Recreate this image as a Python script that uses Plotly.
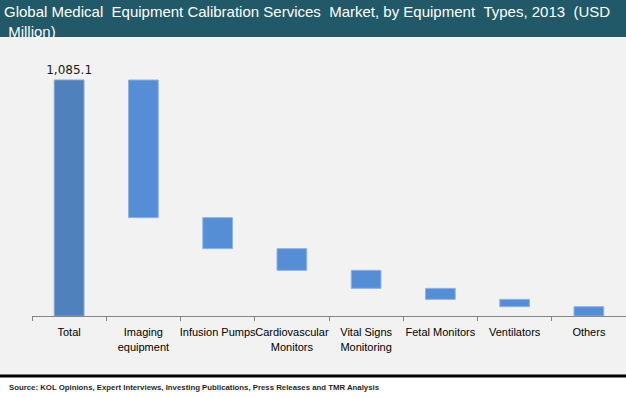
import plotly.graph_objects as go

categories = ["Total", "Imaging<br>equipment", "Infusion Pumps", "Cardiovascular<br>Monitors",
              "Vital Signs<br>Monitoring", "Fetal Monitors", "Ventilators", "Others"]
total_value = 1085.1
segment_values = [633.0, 142.5, 99.7, 82.8, 50.6, 33.7, 42.8]
total_label = "1,085.1"
title_line1 = "Global Medical Equipment Calibration Services Market, by Equipment Types, 2013 (USD"
title_line2 = "Million)"
source_text = "Source: KOL Opinions, Expert Interviews, Investing Publications, Press Releases and TMR Analysis"

values = [total_value] + [-v for v in segment_values]
measures = ["absolute"] + ["relative"] * len(segment_values)
texts = [total_label] + [""] * len(segment_values)

fig = go.Figure(go.Waterfall(
    x=categories,
    y=values,
    measure=measures,
    text=texts,
    textposition="outside",
    constraintext="none",
    textfont=dict(family="DejaVu Sans, Verdana, sans-serif", size=12, color="#1A1A1A"),
    width=0.4,
    connector=dict(visible=False),
    totals=dict(marker=dict(color="#4F81BD", line=dict(color="#7FA3CF", width=1))),
    decreasing=dict(marker=dict(color="#558ED5", line=dict(color="#8DB3E2", width=1))),
    increasing=dict(marker=dict(color="#558ED5")),
    cliponaxis=False,
    hoverinfo="x+y",
))

W, H = 626, 398
L, R, T, B = 32, 0, 50, 82
pw, ph = W - L - R, H - T - B

def px_x(x):
    return (x - L) / pw

def px_y(y):
    return (H - B - y) / ph

# justify the first title line by widening the word gaps
words = title_line1.split(" ")
gap_sizes = [1, 2, 1, 1, 2, 1, 1, 2, 1, 2]
title_html = words[0]
for w, g in zip(words[1:], gap_sizes):
    title_html += "\u00a0" * g + w
title_html += "<br>\u00a0" + title_line2

fig.update_layout(
    width=W, height=H,
    margin=dict(l=L, r=R, t=T, b=B, autoexpand=False),
    paper_bgcolor="#F2F2F2",
    plot_bgcolor="#F2F2F2",
    showlegend=False,
    xaxis=dict(
        type="category",
        showline=True, linecolor="#868686", linewidth=1,
        ticks="outside", tickson="boundaries", ticklen=4, tickcolor="#868686",
        tickangle=0, ticklabelstandoff=6,
        showgrid=False,
        tickfont=dict(family="Liberation Sans, Arial, sans-serif", size=11, color="#000000"),
        fixedrange=True,
    ),
    yaxis=dict(visible=False, range=[0, 1223], fixedrange=True),
    shapes=[
        dict(type="rect", xref="paper", yref="paper",
             x0=px_x(0), x1=px_x(W), y0=px_y(37), y1=px_y(0),
             fillcolor="#215968", line=dict(width=0), layer="below"),
        dict(type="rect", xref="paper", yref="paper",
             x0=px_x(0), x1=px_x(W), y0=px_y(H), y1=px_y(377),
             fillcolor="#FFFFFF", line=dict(width=0), layer="below"),
        dict(type="line", xref="paper", yref="paper",
             x0=px_x(0), x1=px_x(W), y0=px_y(376), y1=px_y(376),
             line=dict(color="#000000", width=3)),
    ],
    annotations=[
        dict(xref="paper", yref="paper", x=px_x(2), y=px_y(1), xanchor="left", yanchor="top",
             text=title_html,
             showarrow=False, align="left",
             font=dict(family="Liberation Sans, Arial, sans-serif", size=15, color="#FFFFFF")),
        dict(xref="paper", yref="paper", x=px_x(7), y=px_y(387), xanchor="left", yanchor="middle",
             text="<b>" + source_text + "</b>",
             showarrow=False, align="left",
             font=dict(family="Liberation Sans, Arial, sans-serif", size=7.8, color="#1F1F1F")),
    ],
)

fig.write_html("out.html", config={"displayModeBar": False},
               post_script="document.body.style.margin='0';")
